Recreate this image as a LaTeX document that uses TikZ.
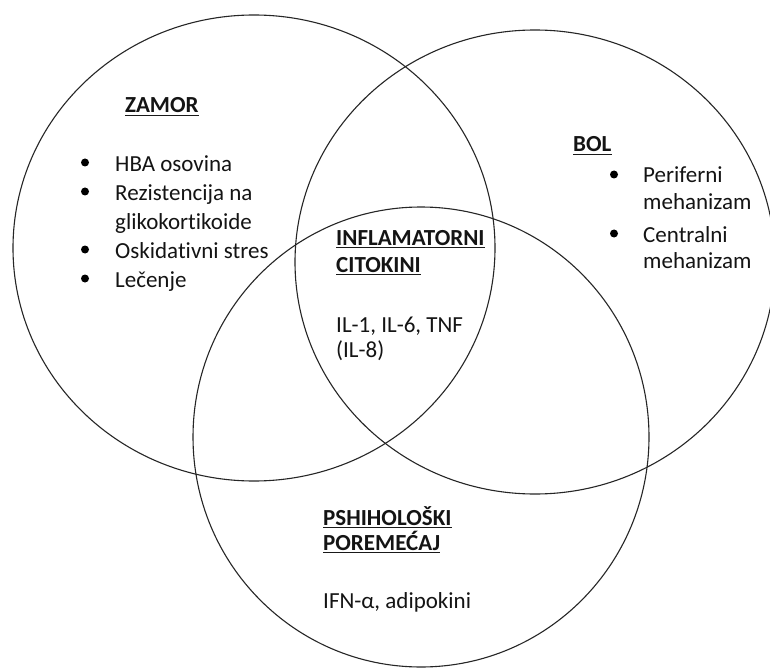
\documentclass[tikz,border=0pt]{standalone}
\usepackage{fontspec}
\setmainfont[Ligatures={NoCommon,NoRequired,NoContextual}]{Carlito}
\begin{document}
\begin{tikzpicture}[x=1pt,y=-1pt,
  ring/.style={draw=black!85,line width=1.1pt},
  txt/.style={anchor=base west,inner sep=0pt,text=black!92,font=\fontsize{23}{29}\selectfont},
  head/.style={txt,font=\fontsize{23}{29}\selectfont\bfseries},
  ul/.style={line width=1.3pt,draw=black!90},
  dot/.style={fill=black,draw=none}]
\useasboundingbox (0,0) rectangle (770,668);
\fill[white] (0,0) rectangle (770,668);
% circles
\draw[ring] (254,248) ellipse [x radius=241pt, y radius=233pt];
\draw[ring] (535,262) ellipse [x radius=240pt, y radius=232pt];
\draw[ring] (421,437) ellipse [x radius=228pt, y radius=230pt];
% ZAMOR
\node[head] (zamor) at (125,113) {ZAMOR};
\draw[ul] ([yshift=-2.5pt]zamor.base west) -- ([yshift=-2.5pt]zamor.base east);
\node[txt] (z1) at (115,171.5) {HBA osovina};
\node[txt] (z2) at (115,200.5) {Rezistencija na};
\node[txt] (z3) at (115,229.5) {glikokortikoide};
\node[txt] (z4) at (115,258.5) {Oskidativni stres};
\node[txt] (z5) at (115,287.5) {Lečenje};
\fill[dot] (85,162.5) circle (4pt);
\fill[dot] (85,191.5) circle (4pt);
\fill[dot] (85,249.5) circle (4pt);
\fill[dot] (85,278.5) circle (4pt);
% BOL
\node[head] (bol) at (573,152) {BOL};
\draw[ul] ([yshift=-2.5pt]bol.base west) -- ([yshift=-2.5pt]bol.base east);
\node[txt] (b1) at (643,183) {Periferni};
\node[txt] (b2) at (643,210) {mehanizam};
\node[txt] (b3) at (643,242) {Centralni};
\node[txt] (b4) at (643,268) {mehanizam};
\fill[dot] (614,174.5) circle (4pt);
\fill[dot] (614,233.5) circle (4pt);
% center
\node[head] (inf) at (336,245) {INFLAMATORNI};
\draw[ul] ([yshift=-2.5pt]inf.base west) -- ([yshift=-2.5pt]inf.base east);
\node[head] (cit) at (336,272) {CITOKINI};
\draw[ul] ([yshift=-2.5pt]cit.base west) -- ([yshift=-2.5pt]cit.base east);
\node[txt] (il1) at (336,332) {IL-1, IL-6, TNF};
\node[txt] (il8) at (336,357) {(IL-8)};
% bottom
\node[head] (psh) at (323,525) {PSHIHOLOŠKI};
\draw[ul] ([yshift=-2.5pt]psh.base west) -- ([yshift=-2.5pt]psh.base east);
\node[head] (por) at (323,550) {POREMEĆAJ};
\draw[ul] ([yshift=-2.5pt]por.base west) -- ([yshift=-2.5pt]por.base east);
\node[txt] (ifn) at (323,608) {IFN-α, adipokini};
\end{tikzpicture}
\end{document}
